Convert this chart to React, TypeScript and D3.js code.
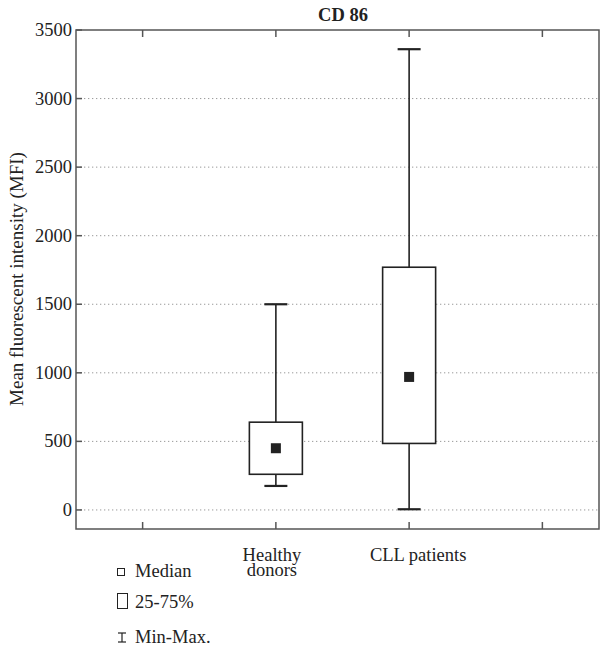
import React from 'react'
import { scaleLinear, range } from 'd3'

const title = 'CD 86'
const yLabel = 'Mean fluorescent intensity (MFI)'
const slots = ['', 'Healthy\ndonors', 'CLL patients', '']
const groupSlot = [2, 3]
const mins = [175, 5]
const q1s = [260, 485]
const medians = [450, 970]
const q3s = [640, 1770]
const maxs = [1500, 3360]
const yTicks = range(0, 3501, 500)
const legendItems = ['Median', '25-75%', 'Min-Max.']

const font = 'Liberation Serif, Times New Roman, DejaVu Serif, serif'
const ink = '#222'

export default function App() {
  const left = 76
  const top = 30
  const right = 599
  const bottom = 529

  const y = scaleLinear().domain([-139, 3500]).range([bottom, top])
  const x = scaleLinear().domain([0.5, 4.5]).range([left, 609])

  const boxW = 53
  const capW = 23
  const medW = 10
  const fs = 18.5

  return (
    <div style={{ position: 'absolute', left: 0, top: 0 }}>
      <svg width={600} height={650} fontFamily={font} style={{ display: 'block' }}>
        {/* grid */}
        {yTicks.filter(t => t < 3500).map(t => (
          <line key={'g' + t} x1={left} x2={right} y1={y(t)} y2={y(t)}
            stroke="#999" strokeWidth={1} strokeDasharray="1.3 2.7" />
        ))}

        {/* frame */}
        <rect x={left} y={top} width={right - left} height={bottom - top}
          fill="none" stroke="#555" strokeWidth={1.5} />

        {/* y ticks */}
        {yTicks.map(t => (
          <g key={'y' + t}>
            <line x1={left} x2={left + 6} y1={y(t)} y2={y(t)} stroke="#555" strokeWidth={1.5} />
            <text x={left - 4} y={y(t)} dy="0.33em" textAnchor="end" fontSize={fs} fill={ink}>{t}</text>
          </g>
        ))}

        {/* x ticks top & bottom */}
        {slots.map((s, i) => (
          <g key={'x' + i}>
            <line x1={x(i + 1)} x2={x(i + 1)} y1={top} y2={top + 7} stroke="#555" strokeWidth={1.5} />
            <line x1={x(i + 1)} x2={x(i + 1)} y1={bottom} y2={bottom - 7} stroke="#555" strokeWidth={1.5} />
            {s.split('\n').map((ln, j) => (
              <text key={j} x={x(i + 1) + (s.includes('\n') ? -4 : 9)} y={561 + j * 15}
                textAnchor="middle" fontSize={fs} fill={ink}>{ln}</text>
            ))}
          </g>
        ))}

        {/* boxes */}
        {groupSlot.map((p, i) => {
          const cx = x(p)
          return (
            <g key={'b' + i} stroke={ink} strokeWidth={1.6}>
              <line x1={cx} x2={cx} y1={y(maxs[i])} y2={y(q3s[i])} />
              <line x1={cx} x2={cx} y1={y(q1s[i])} y2={y(mins[i])} />
              <line x1={cx - capW / 2} x2={cx + capW / 2} y1={y(maxs[i])} y2={y(maxs[i])} strokeWidth={2.2} />
              <line x1={cx - capW / 2} x2={cx + capW / 2} y1={y(mins[i])} y2={y(mins[i])} strokeWidth={2.2} />
              <rect x={cx - boxW / 2} y={y(q3s[i])} width={boxW} height={y(q1s[i]) - y(q3s[i])} fill="white" />
              <rect x={cx - medW / 2} y={y(medians[i]) - medW / 2} width={medW} height={medW} fill={ink} stroke="none" />
            </g>
          )
        })}

        {/* title */}
        <text x={343} y={21} textAnchor="middle" fontSize={fs} fontWeight="bold" fill={ink}>{title}</text>

        {/* y label */}
        <text transform="translate(23,279) rotate(-90)" textAnchor="middle" fontSize={19} fill={ink}>{yLabel}</text>

        {/* legend */}
        <g fill={ink} fontSize={fs}>
          <rect x={117.5} y={568.5} width={7} height={7} fill="none" stroke={ink} strokeWidth={1} />
          <text x={135} y={577}>{legendItems[0]}</text>
          <rect x={117.5} y={593.5} width={10} height={15} fill="none" stroke={ink} strokeWidth={1} />
          <text x={135} y={608}>{legendItems[1]}</text>
          <g stroke={ink} strokeWidth={1.2}>
            <line x1={118} x2={126} y1={633} y2={633} />
            <line x1={122} x2={122} y1={633} y2={642} />
            <line x1={118} x2={126} y1={642} y2={642} />
          </g>
          <text x={135} y={643}>{legendItems[2]}</text>
        </g>
      </svg>
    </div>
  )
}
